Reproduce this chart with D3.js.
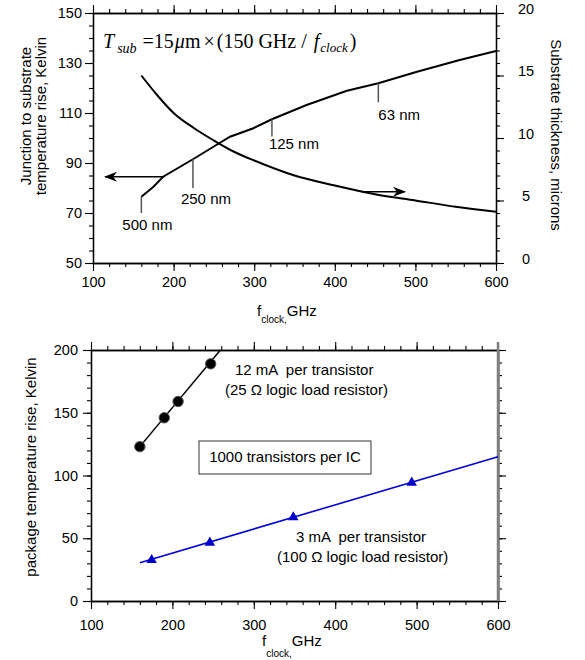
<!DOCTYPE html>
<html>
<head>
<meta charset="utf-8">
<script src="https://cdn.jsdelivr.net/npm/d3@7"></script>
<style>
  body { margin: 0; background: #fff; }
  svg { display: block; }
  text { font-family: "Liberation Sans", Arial, sans-serif; fill: #000; }
</style>
</head>
<body>
<div id="chart"></div>
<script>
// ---- top panel data ----
var fNode = [160, 175, 187, 224, 255, 270, 299, 322, 365, 415, 454, 502, 555, 600];
var riseK = [76.5, 80.5, 84.5, 91.5, 97.6, 100.5, 103.9, 107.5, 113.2, 118.9, 121.9, 126.5, 131.2, 134.8];
var fThick = [160, 180, 200, 225, 250, 275, 300, 350, 400, 450, 500, 550, 600];
var thickUm = [15.0, 13.4, 12.0, 10.8, 9.8, 8.9, 8.2, 7.0, 6.2, 5.5, 5.0, 4.5, 4.1];
var nodeF = [160, 224, 322, 454];
var nodeK = [76.5, 91.5, 107.5, 121.9];
var nodeEndK = [70, 80, 100.6, 114.3];
var nodeLabels = ["500 nm", "250 nm", "125 nm", "63 nm"];
var topXTicks = [100, 200, 300, 400, 500, 600];
var topYTicks = [50, 70, 90, 110, 130, 150];
var topRTicks = [0, 5, 10, 15, 20];

// ---- bottom panel data ----
var fHi = [160, 190, 207, 247];
var riseHi = [123, 146, 159, 189];
var fitHiF = [160, 259];
var fitHiK = [123, 200];
var fLo = [174.5, 246, 348.5, 494];
var riseLo = [32.7, 46.5, 66.7, 94.3];
var fitLoF = [160, 600];
var fitLoK = [30.5, 115];
var botXTicks = [100, 200, 300, 400, 500, 600];
var botYTicks = [0, 50, 100, 150, 200];

var w = 585;
var h = 660;
var fs = 15;

var svg = d3.select("#chart").append("svg").attr("width", w).attr("height", h);

var defs = svg.append("defs");
defs.append("marker")
  .attr("id", "arrow")
  .attr("viewBox", "0 -6 13 12")
  .attr("refX", 12)
  .attr("refY", 0)
  .attr("markerWidth", 13)
  .attr("markerHeight", 12)
  .attr("markerUnits", "userSpaceOnUse")
  .attr("orient", "auto")
  .append("path")
  .attr("d", "M0,-5 L13,0 L0,5 L4,0 Z")
  .attr("fill", "#000");

function styleAxis(g) {
  g.attr("font-family", null).attr("font-size", null);
  g.selectAll("path.domain").attr("stroke", "#000").attr("stroke-width", 1.3);
  g.selectAll(".tick line").attr("stroke", "#000").attr("stroke-width", 1.1);
  g.selectAll(".tick text").style("font-size", "14.5px");
}

// draws minor + major ticks of one side
function side(gen, scale, tr, major, minor, labels, pad) {
  var a = svg.append("g").attr("transform", tr)
    .call(gen(scale).tickValues(minor).tickSize(4).tickSizeOuter(0).tickFormat(""));
  styleAxis(a);
  var b = svg.append("g").attr("transform", tr)
    .call(gen(scale).tickValues(major).tickSize(8).tickSizeOuter(0)
      .tickPadding(pad || 3).tickFormat(labels ? d3.format("d") : ""));
  styleAxis(b);
  return b;
}

// ================= TOP PANEL =================
var x1 = d3.scaleLinear().domain([100, 600]).range([93, 496]);
var y1 = d3.scaleLinear().domain([50, 150]).range([263, 13]);
var y1r = d3.scaleLinear().domain([0, 20]).range([263, 13]);

side(d3.axisBottom, x1, "translate(0,263)", topXTicks, d3.range(100, 601, 20), true, 6);
side(d3.axisTop, x1, "translate(0,13)", topXTicks, d3.range(100, 601, 20), false);
side(d3.axisLeft, y1, "translate(93,0)", topYTicks, d3.range(50, 151, 5), true, 3);
var rAx = side(d3.axisRight, y1r, "translate(496,0)", topRTicks, d3.range(0, 21, 1), true, 10);
rAx.selectAll(".tick text").attr("dy", "0").attr("x", 30).attr("text-anchor", "middle");

var lineT = d3.line().x((d) => x1(d[0])).y((d) => y1(d[1]));
var lineR = d3.line().x((d) => x1(d[0])).y((d) => y1r(d[1])).curve(d3.curveMonotoneX);

svg.append("path")
  .datum(d3.zip(fNode, riseK))
  .attr("d", lineT)
  .attr("fill", "none")
  .attr("stroke", "#000")
  .attr("stroke-width", 2);

svg.append("path")
  .datum(d3.zip(fThick, thickUm))
  .attr("d", lineR)
  .attr("fill", "none")
  .attr("stroke", "#000")
  .attr("stroke-width", 2);

// technology node markers
var nodeDx = [-19, -12, -3, 0];
var nodeDy = [17, 16, 12, 18];
nodeF.forEach((f, i) => {
  svg.append("line")
    .attr("x1", x1(f)).attr("x2", x1(f))
    .attr("y1", y1(nodeK[i])).attr("y2", y1(nodeEndK[i]))
    .attr("stroke", "#555")
    .attr("stroke-width", 1.5);
  svg.append("text")
    .attr("x", x1(f) + nodeDx[i])
    .attr("y", y1(nodeEndK[i]) + nodeDy[i])
    .style("font-size", fs + "px")
    .text(nodeLabels[i]);
});

// axis arrows
svg.append("line")
  .attr("x1", x1(188.5)).attr("y1", y1(84.5))
  .attr("x2", x1(115)).attr("y2", y1(84.5))
  .attr("stroke", "#000").attr("stroke-width", 1.3)
  .attr("marker-end", "url(#arrow)");
svg.append("line")
  .attr("x1", x1(433)).attr("y1", y1r(5.7))
  .attr("x2", x1(487)).attr("y2", y1r(5.7))
  .attr("stroke", "#000").attr("stroke-width", 1.3)
  .attr("marker-end", "url(#arrow)");

// formula
var fm = svg.append("text")
  .attr("x", 103)
  .attr("y", 48)
  .style("font-family", "'Liberation Serif', 'Times New Roman', serif")
  .style("font-size", "20px");
fm.append("tspan").style("font-style", "italic").text("T");
fm.append("tspan").style("font-style", "italic").style("font-size", "14px").attr("dy", 5).attr("dx", 3).text("sub");
fm.append("tspan").attr("dy", -5).attr("dx", 6).text("=15");
fm.append("tspan").style("font-style", "italic").attr("dx", 1).text("\u03bc");
fm.append("tspan").text("m");
fm.append("tspan").attr("dx", 3).text("\u00d7");
fm.append("tspan").attr("dx", 2).text("(150 GHz / ");
fm.append("tspan").style("font-style", "italic").attr("dx", 2).text("f");
fm.append("tspan").style("font-style", "italic").style("font-size", "13px").attr("dy", 4).attr("dx", 1).text("clock");
fm.append("tspan").attr("dy", -4).attr("dx", 2).text(")");

// axis titles
svg.append("text")
  .attr("transform", "translate(31,116) rotate(-90)")
  .attr("text-anchor", "middle")
  .style("font-size", fs + "px")
  .text("Junction to substrate");
svg.append("text")
  .attr("transform", "translate(46,116) rotate(-90)")
  .attr("text-anchor", "middle")
  .style("font-size", fs + "px")
  .text("temperature rise, Kelvin");
svg.append("text")
  .attr("transform", "translate(551,135) rotate(90)")
  .attr("text-anchor", "middle")
  .style("font-size", fs + "px")
  .text("Substrate thickness, microns");

function fTitle(xp, yp, sub) {
  var t = svg.append("text").attr("x", xp).attr("y", yp).style("font-size", fs + "px");
  t.append("tspan").text("f");
  t.append("tspan").style("font-size", "10px").attr("dy", sub).text("clock,");
  t.append("tspan").attr("dy", -sub).text("GHz");
}
fTitle(257, 316, 7);

// ================= BOTTOM PANEL =================
var x2 = d3.scaleLinear().domain([100, 600]).range([91, 498]);
var y2 = d3.scaleLinear().domain([0, 200]).range([601, 350]);

side(d3.axisBottom, x2, "translate(0,601)", botXTicks, d3.range(100, 601, 20), true, 11);
side(d3.axisTop, x2, "translate(0,350)", botXTicks, d3.range(100, 601, 20), false);
side(d3.axisLeft, y2, "translate(91,0)", botYTicks, d3.range(0, 201, 10), true, 5);
var r2 = side(d3.axisRight, y2, "translate(498,0)", botYTicks, d3.range(0, 201, 10), false);
r2.selectAll("path.domain").attr("stroke", "#7f7f7f").attr("stroke-width", 2.5);
svg.append("line")
  .attr("x1", x2(600)).attr("x2", x2(600))
  .attr("y1", y2(200) - 8).attr("y2", y2(0))
  .attr("stroke", "#7f7f7f").attr("stroke-width", 2.5);

var line2 = d3.line().x((d) => x2(d[0])).y((d) => y2(d[1]));

svg.append("path")
  .datum(d3.zip(fitHiF, fitHiK))
  .attr("d", line2)
  .attr("stroke", "#000").attr("stroke-width", 1.5).attr("fill", "none");
svg.append("path")
  .datum(d3.zip(fitLoF, fitLoK))
  .attr("d", line2)
  .attr("stroke", "#0000dd").attr("stroke-width", 1.6).attr("fill", "none");

svg.append("g").selectAll("circle")
  .data(d3.zip(fHi, riseHi))
  .enter()
  .append("circle")
  .attr("cx", (d) => x2(d[0]))
  .attr("cy", (d) => y2(d[1]))
  .attr("r", 5.2)
  .attr("fill", "#000")
  .attr("stroke", "#555")
  .attr("stroke-width", 1);

var tri = d3.symbol().type(d3.symbolTriangle).size(48);
svg.append("g").selectAll("path")
  .data(d3.zip(fLo, riseLo))
  .enter()
  .append("path")
  .attr("d", tri)
  .attr("transform", (d) => `translate(${x2(d[0])},${y2(d[1])})`)
  .attr("fill", "#0000cc");

function note(xp, yp, s) {
  svg.append("text")
    .attr("x", xp).attr("y", yp)
    .style("font-size", fs + "px")
    .style("white-space", "pre")
    .text(s);
}
note(235, 375, "12 mA  per transistor");
note(225, 395, "(25 \u03a9 logic load resistor)");
note(296, 542, "3 mA  per transistor");
note(277, 562, "(100 \u03a9 logic load resistor)");

svg.append("rect")
  .attr("x", 199).attr("y", 441)
  .attr("width", 172).attr("height", 33)
  .attr("fill", "none")
  .attr("stroke", "#333")
  .attr("stroke-width", 1);
svg.append("text")
  .attr("x", 285).attr("y", 462)
  .attr("text-anchor", "middle")
  .style("font-size", fs + "px")
  .text("1000 transistors per IC");

svg.append("text")
  .attr("transform", "translate(36,467) rotate(-90)")
  .attr("text-anchor", "middle")
  .style("font-size", fs + "px")
  .text("package temperature rise, Kelvin");

fTitle(262, 646, 11);
</script>
</body>
</html>
